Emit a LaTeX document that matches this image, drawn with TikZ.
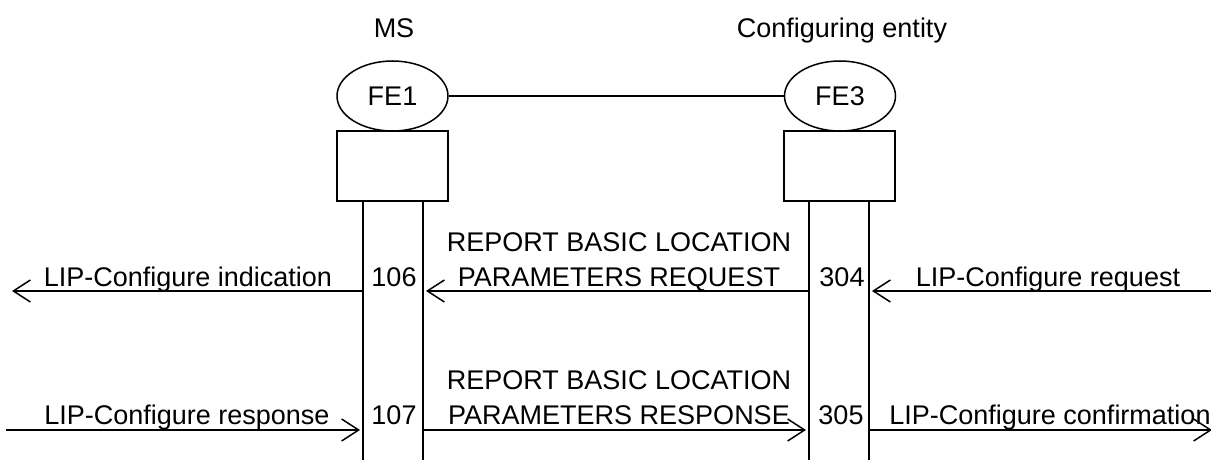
\documentclass[tikz,border=0pt]{standalone}
\usepackage{fontspec}
\setmainfont{Liberation Sans}
\usetikzlibrary{shapes.geometric,arrows.meta}
\begin{document}
\begin{tikzpicture}[x=1pt,y=-1pt,
  every node/.style={font=\fontsize{27}{35}\selectfont, text=black},
  fe/.style={draw, line width=1.5pt, ellipse, minimum width=111pt, minimum height=70pt, inner sep=0pt},
  boxnode/.style={draw, line width=1.5pt, rectangle, minimum width=111pt, minimum height=70pt, inner sep=0pt},
  life/.style={line width=1.5pt},
  msg/.style={line width=1.5pt, -{Straight Barb[length=17pt,width=22pt,line width=1.5pt]}},
  lbl/.style={inner sep=0pt, anchor=base}
]
\useasboundingbox (0,0) rectangle (1211,460);

% entity titles
\node[lbl] (ms) at (394,37.5) {MS};
\node[lbl] (ce) at (842,37.5) {Configuring entity};

% functional entities
\node[fe] (fe1) at (392.5,96) {FE1};
\node[fe] (fe3) at (840,96) {FE3};
\draw[life] (fe1) -- (fe3);

% boxes
\node[boxnode] (b1) at (392.5,166) {};
\node[boxnode] (b3) at (839.5,166) {};

% lifelines
\coordinate (l1a) at (363,201);
\coordinate (l1b) at (423,201);
\coordinate (l3a) at (809,201);
\coordinate (l3b) at (869,201);
\coordinate (e1a) at (363,460);
\coordinate (e1b) at (423,460);
\coordinate (e3a) at (809,460);
\coordinate (e3b) at (869,460);
\draw[life] (l1a) -- (e1a);
\draw[life] (l1b) -- (e1b);
\draw[life] (l3a) -- (e3a);
\draw[life] (l3b) -- (e3b);

% message anchor points
\coordinate (m1L) at (363,291);
\coordinate (m1R) at (423,291);
\coordinate (m3L) at (809,291);
\coordinate (m3R) at (869,291);
\coordinate (m1out) at (12,291);
\coordinate (m3in) at (1211,291);

\coordinate (n1L) at (363,430);
\coordinate (n1R) at (423,430);
\coordinate (n3L) at (809,430);
\coordinate (n3R) at (869,430);
\coordinate (n1in) at (6,430);
\coordinate (n3out) at (1212,430);

% messages top
\draw[msg] (m3in) -- ([xshift=3pt]m3R);
\draw[msg] (m3L) -- ([xshift=3pt]m1R);
\draw[msg] (m1L) -- (m1out);

% messages bottom
\draw[msg] (n1in) -- ([xshift=-3pt]n1L);
\draw[msg] (n1R) -- ([xshift=-3pt]n3L);
\draw[msg] (n3R) -- (n3out);

% labels
\node[lbl] (t1) at (188,286.5) {LIP-Configure indication};
\node[lbl] (t2a) at (619,251.5) {REPORT BASIC LOCATION};
\node[lbl] (t2b) at (619,286.5) {PARAMETERS REQUEST};
\node[lbl] (t3) at (1048,286.5) {LIP-Configure request};
\node[lbl] (n106) at (394,286.5) {106};
\node[lbl] (n304) at (842,286.5) {304};

\node[lbl] (t4) at (187,424) {LIP-Configure response};
\node[lbl] (t5a) at (619,389) {REPORT BASIC LOCATION};
\node[lbl] (t5b) at (619,424) {PARAMETERS RESPONSE};
\node[lbl] (t6) at (1050,424) {LIP-Configure confirmation};
\node[lbl] (n107) at (394,424) {107};
\node[lbl] (n305) at (841,424) {305};
\end{tikzpicture}
\end{document}
